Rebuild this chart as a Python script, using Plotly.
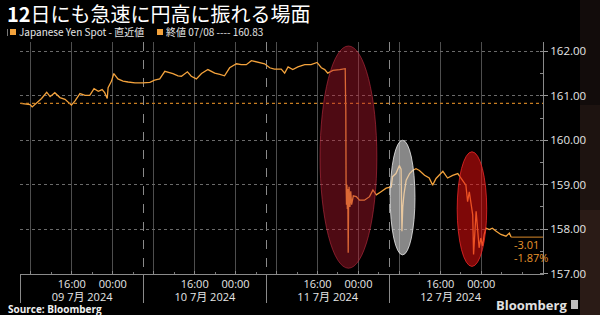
import plotly.graph_objects as go

# ---------------- data (JST) ----------------
times = [
    "2024-07-09 06:00", "2024-07-09 07:50", "2024-07-09 08:15", "2024-07-09 09:05",
    "2024-07-09 10:05", "2024-07-09 11:05", "2024-07-09 11:45", "2024-07-09 12:40",
    "2024-07-09 13:40", "2024-07-09 14:40", "2024-07-09 15:15", "2024-07-09 15:55",
    "2024-07-09 16:35", "2024-07-09 17:35", "2024-07-09 18:35", "2024-07-09 19:30",
    "2024-07-09 20:20", "2024-07-09 21:10", "2024-07-09 21:55", "2024-07-09 22:25",
    "2024-07-09 22:55", "2024-07-09 23:05", "2024-07-09 23:45",
    "2024-07-10 00:12", "2024-07-10 01:00", "2024-07-10 02:00", "2024-07-10 03:00",
    "2024-07-10 04:20", "2024-07-10 05:55", "2024-07-10 07:15", "2024-07-10 08:10",
    "2024-07-10 09:10", "2024-07-10 10:10", "2024-07-10 10:55", "2024-07-10 11:45",
    "2024-07-10 12:45", "2024-07-10 13:25", "2024-07-10 14:35", "2024-07-10 15:20",
    "2024-07-10 16:20", "2024-07-10 17:20", "2024-07-10 18:35", "2024-07-10 19:55",
    "2024-07-10 20:55", "2024-07-10 21:50", "2024-07-10 22:50",
    "2024-07-11 00:10", "2024-07-11 01:05", "2024-07-11 02:05", "2024-07-11 03:05",
    "2024-07-11 04:20", "2024-07-11 05:40", "2024-07-11 06:40", "2024-07-11 07:35",
    "2024-07-11 08:55", "2024-07-11 09:35", "2024-07-11 10:15", "2024-07-11 11:10",
    "2024-07-11 12:10", "2024-07-11 13:30", "2024-07-11 14:45", "2024-07-11 15:55",
    "2024-07-11 16:45", "2024-07-11 17:25", "2024-07-11 18:00", "2024-07-11 19:00",
    "2024-07-11 20:20", "2024-07-11 21:25", "2024-07-11 21:30", "2024-07-11 21:32",
    "2024-07-11 21:35", "2024-07-11 21:40", "2024-07-11 21:45", "2024-07-11 21:50",
    "2024-07-11 21:55", "2024-07-11 22:00", "2024-07-11 22:05", "2024-07-11 22:10",
    "2024-07-11 22:20", "2024-07-11 22:30", "2024-07-11 22:40", "2024-07-11 23:00",
    "2024-07-11 23:35",
    "2024-07-12 00:12", "2024-07-12 01:10", "2024-07-12 02:10", "2024-07-12 02:50",
    "2024-07-12 03:30", "2024-07-12 04:25", "2024-07-12 05:25", "2024-07-12 06:25",
    "2024-07-12 06:40", "2024-07-12 07:20", "2024-07-12 08:00", "2024-07-12 08:20",
    "2024-07-12 08:30", "2024-07-12 08:40", "2024-07-12 08:55", "2024-07-12 09:20",
    "2024-07-12 10:00", "2024-07-12 10:35", "2024-07-12 11:15", "2024-07-12 11:55",
    "2024-07-12 12:55", "2024-07-12 13:50", "2024-07-12 14:30", "2024-07-12 15:10",
    "2024-07-12 16:30", "2024-07-12 17:25", "2024-07-12 18:25", "2024-07-12 19:25",
    "2024-07-12 20:20", "2024-07-12 21:00", "2024-07-12 21:20", "2024-07-12 21:40",
    "2024-07-12 22:20", "2024-07-12 22:30", "2024-07-12 23:00", "2024-07-12 23:15",
    "2024-07-12 23:35", "2024-07-12 23:55",
    "2024-07-13 00:15", "2024-07-13 00:35", "2024-07-13 00:55", "2024-07-13 01:35",
    "2024-07-13 02:10", "2024-07-13 02:55", "2024-07-13 03:50", "2024-07-13 04:50",
    "2024-07-13 05:30", "2024-07-13 05:50",
]
values = [
    160.83, 160.80, 160.75, 160.83,
    160.94, 161.08, 160.98, 161.07,
    160.96, 160.92, 160.86, 160.79,
    160.88, 161.05, 161.01, 161.01,
    161.16, 161.10, 161.14, 161.07,
    160.94, 161.18, 161.33,
    161.50, 161.38, 161.33, 161.31,
    161.29, 161.29, 161.30, 161.35,
    161.38, 161.55, 161.53, 161.50,
    161.45, 161.44, 161.54, 161.44,
    161.38, 161.50, 161.59, 161.51,
    161.48, 161.45, 161.63,
    161.72, 161.70, 161.70, 161.79,
    161.76, 161.72, 161.63, 161.60,
    161.60, 161.51, 161.65, 161.59,
    161.65, 161.70, 161.70, 161.75,
    161.63, 161.59, 161.51, 161.57,
    161.59, 161.61, 160.85, 160.70,
    159.10, 158.55, 159.00, 158.45,
    158.90, 157.47, 158.60, 158.95,
    158.50, 158.85, 158.55, 158.75,
    158.73,
    158.65, 158.65, 158.73, 158.88,
    158.77, 158.84, 158.92, 158.95,
    159.18, 159.25, 159.43, 159.35,
    157.95, 158.50, 158.80, 159.10,
    159.25, 159.32, 159.36, 159.32,
    159.21, 159.15, 158.99, 159.14,
    159.30, 159.15, 159.21, 159.25,
    159.10, 158.99, 158.62, 158.84,
    158.32, 157.43, 158.40, 157.95,
    157.58, 157.80,
    157.62, 157.88, 158.02, 157.99,
    158.02, 157.95, 157.88, 157.84,
    157.91, 157.82,
]
prev_close = 160.83
prev_close_date = "07/08"
series_name = "Japanese Yen Spot - 直近値"

y_ticks = [157, 158, 159, 160, 161, 162]
grid_times = [
    "2024-07-09 08:00", "2024-07-09 16:00", "2024-07-10 00:00",
    "2024-07-10 08:00", "2024-07-10 16:00", "2024-07-11 00:00",
    "2024-07-11 08:00", "2024-07-11 16:00", "2024-07-12 00:00",
    "2024-07-12 08:00", "2024-07-12 16:00", "2024-07-13 00:00",
]
grid_labels = ["", "16:00", "00:00"] * 4
day_bounds = ["2024-07-09 06:00", "2024-07-10 06:00", "2024-07-11 06:00", "2024-07-12 06:00"]
day_centers = ["2024-07-09 18:00", "2024-07-10 18:00", "2024-07-11 18:00", "2024-07-12 18:00"]
day_labels = ["09 7月 2024", "10 7月 2024", "11 7月 2024", "12 7月 2024"]

x_range = ["2024-07-09 05:52", "2024-07-13 12:04"]
y_range = [156.99, 162.21]

# highlight ellipses: (x0, x1, y0, y1, fill, line)
ellipses = [
    ("2024-07-11 16:30", "2024-07-12 03:36", 157.12, 162.12, "rgba(185,25,45,0.42)", "rgba(190,45,65,0.6)"),
    ("2024-07-12 06:12", "2024-07-12 11:03", 157.42, 160.00, "rgba(225,225,225,0.6)", "rgba(235,235,235,0.8)"),
    ("2024-07-12 19:18", "2024-07-13 01:04", 157.16, 159.74, "rgba(230,15,15,0.55)", "rgba(235,40,40,0.8)"),
]

ORANGE = "#f3a23c"
TXT = "#e6e6e6"
FONT = "Open Sans, Noto Sans CJK JP, sans-serif"
CJK = "Noto Sans CJK JP, sans-serif"

fig = go.Figure()
fig.add_trace(go.Scatter(
    x=times, y=values, mode="lines",
    line=dict(color=ORANGE, width=1.3), hoverinfo="skip", showlegend=False,
))
fig.add_trace(go.Scatter(
    x=x_range, y=[prev_close, prev_close], mode="lines", xaxis="x2",
    line=dict(color="#c77d22", width=1.3, dash="dot"), hoverinfo="skip", showlegend=False,
))
# last-value line to the axis
fig.add_trace(go.Scatter(
    x=[times[-1], x_range[1]], y=[values[-1], values[-1]], mode="lines",
    line=dict(color="#d98a2a", width=1), hoverinfo="skip", showlegend=False,
))

shapes = []
for x0, x1, y0, y1, fc, lc in ellipses:
    shapes.append(dict(type="circle", xref="x", yref="y", x0=x0, x1=x1, y0=y0, y1=y1,
                       fillcolor=fc, line=dict(color=lc, width=1), layer="above"))
W = 523.0
H = 232.0
def px(xp):
    return (xp - 20) / W
def py(yp):
    return (274 - yp) / H
# right-edge brownish strip
for (ya, yb, col) in [(0, 105, "#120c0b"), (105, 210, "#1d1310"), (210, 315, "#2a1b16")]:
    shapes.append(dict(type="rect", xref="paper", yref="paper", x0=px(580), x1=px(600),
                       y0=py(yb), y1=py(ya), fillcolor=col, line=dict(width=0), layer="below"))
# legend squares
for xa in (10, 157):
    shapes.append(dict(type="rect", xref="paper", yref="paper", x0=px(xa), x1=px(xa + 6),
                       y0=py(35), y1=py(29), fillcolor=ORANGE, line=dict(width=0)))
shapes.append(dict(type="line", xref="paper", yref="paper", x0=px(7.5), x1=px(7.5),
                   y0=py(36), y1=py(29), line=dict(color="#777", width=1)))
# Bloomberg logo box
shapes.append(dict(type="rect", xref="paper", yref="paper", x0=px(571), x1=px(578),
                   y0=py(309), y1=py(300), fillcolor="#bdbdbd", line=dict(width=0)))

change = values[-1] - prev_close
pct = change / prev_close * 100

annotations = [
    dict(xref="paper", yref="paper", x=px(17), y=py(32), xanchor="left", yanchor="middle",
         showarrow=False, font=dict(family=CJK, size=10, color=TXT), text=series_name),
    dict(xref="paper", yref="paper", x=px(164), y=py(32), xanchor="left", yanchor="middle",
         showarrow=False, font=dict(family=CJK, size=10, color=TXT),
         text=f"終値 {prev_close_date} ---- {prev_close:.2f}"),
    dict(xref="x", yref="y", x=times[-1], y=values[-1], xanchor="left", yanchor="middle",
         xshift=1, yshift=-7, showarrow=False, font=dict(family=FONT, size=11, color="#e8952e"),
         text=f"{change:.2f}"),
    dict(xref="x", yref="y", x=times[-1], y=values[-1], xanchor="left", yanchor="middle",
         xshift=1, yshift=-20, showarrow=False, font=dict(family=FONT, size=11, color="#e8952e"),
         text=f"{pct:.2f}%"),
    dict(xref="paper", yref="paper", x=px(6), y=py(309), xanchor="left", yanchor="middle",
         showarrow=False, font=dict(family=FONT, size=10, color="#f0f0f0"),
         text="<b>Source: Bloomberg</b>"),
    dict(xref="paper", yref="paper", x=px(569), y=py(305), xanchor="right", yanchor="middle",
         showarrow=False, font=dict(family=FONT, size=13, color="#e0e0e0"),
         text="<b>Bloomberg</b>"),
]

fig.update_layout(
    width=600, height=315,
    margin=dict(l=20, r=57, t=42, b=41),
    paper_bgcolor="#000000", plot_bgcolor="#000000",
    title=dict(text="<b>12</b>日にも急速に円高に振れる場面", xref="container", yref="container",
               x=7 / 600, y=1 - 15 / 315, xanchor="left", yanchor="middle",
               font=dict(family=CJK, size=20, color="#ffffff")),
    xaxis=dict(type="date", range=x_range, tickmode="array", tickvals=grid_times, ticktext=grid_labels,
               showgrid=True, gridcolor="#4e4e4e", gridwidth=1,
               showline=True, linecolor="#8a8a8a", linewidth=1,
               ticks="inside", ticklen=3, tickcolor="#8a8a8a",
               tickfont=dict(family=FONT, size=11, color=TXT), zeroline=False,
               minor=dict(tickmode="linear", tick0="2024-07-09 00:00", dtick=4 * 3600000,
                          ticks="inside", ticklen=2, tickcolor="#777", showgrid=False)),
    xaxis2=dict(type="date", range=x_range, overlaying="x", anchor="y", side="bottom",
                tickmode="array", tickvals=day_centers, ticktext=day_labels, ticks="",
                ticklabelstandoff=15, showgrid=False, showline=False, zeroline=False,
                tickfont=dict(family=FONT, size=11, color=TXT),
                minor=dict(tickmode="array", tickvals=day_bounds, ticks="outside", ticklen=28,
                           tickcolor="#8a8a8a", showgrid=True, gridcolor="#8a8a8a",
                           griddash="dash", gridwidth=1)),
    yaxis=dict(side="right", range=y_range, tickmode="array", tickvals=y_ticks, tickformat=".2f",
               ticks="outside", ticklen=4, tickcolor="#9a9a9a",
               showline=True, linecolor="#8a8a8a", linewidth=1,
               showgrid=True, gridcolor="#6a6a6a", griddash="dot", gridwidth=1, zeroline=False,
               tickfont=dict(family=FONT, size=11.5, color=TXT),
               minor=dict(dtick=0.5, tick0=157, ticks="inside", ticklen=3, tickcolor="#8a8a8a",
                          showgrid=False)),
    shapes=shapes, annotations=annotations, showlegend=False,
)

fig.write_html("out.html")
